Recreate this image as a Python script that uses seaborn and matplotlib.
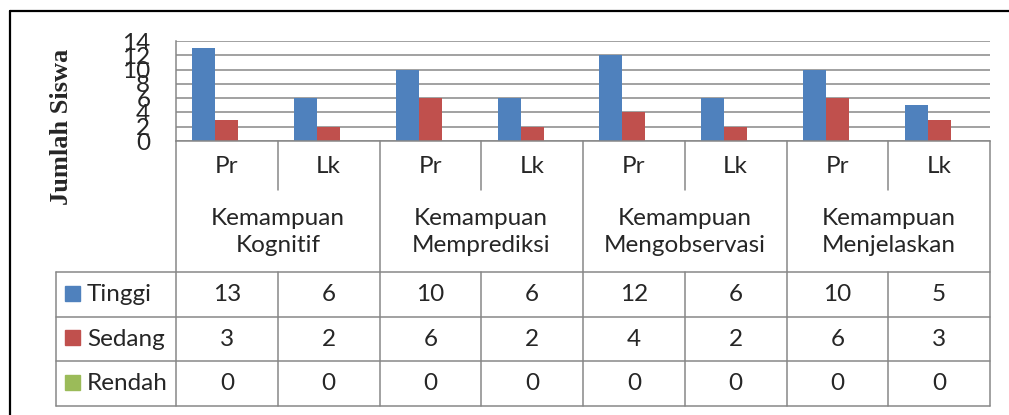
import pandas as pd
import matplotlib.pyplot as plt
import seaborn as sns
from matplotlib.lines import Line2D
from matplotlib.patches import Rectangle

# Data
groups = ["Kemampuan\nKognitif", "Kemampuan\nMemprediksi",
          "Kemampuan\nMengobservasi", "Kemampuan\nMenjelaskan"]
genders = ["Pr", "Lk"]
levels = ["Tinggi", "Sedang", "Rendah"]
tinggi = [13, 6, 10, 6, 12, 6, 10, 5]
sedang = [3, 2, 6, 2, 4, 2, 6, 3]
rendah = [0, 0, 0, 0, 0, 0, 0, 0]
colors = ["#4F81BD", "#C0504D", "#9BBB59"]

slots = [g.split("\n")[1] + " " + s for g in groups for s in genders]
df = pd.DataFrame({
    "slot": slots * 3,
    "level": [lv for lv in levels for _ in slots],
    "jumlah": tinggi + sedang + rendah,
})

sns.set_style("white")
plt.rcParams["font.family"] = ["Lato", "DejaVu Sans"]
fs = 17.5

W, H = 1009, 415
fig = plt.figure(figsize=(W / 100, H / 100), dpi=100)
grid_c = "#878787"

# bar area
ax = fig.add_axes([176 / W, 1 - 141 / H, 814 / W, 100 / H])
sns.barplot(data=df, x="slot", y="jumlah", hue="level", order=slots,
            hue_order=levels, palette=colors, width=0.68, saturation=1,
            linewidth=0, errorbar=None, legend=False, ax=ax)
ax.set_xlim(-0.5, 7.5)
ax.set_ylim(0, 14)
ax.set_yticks(range(0, 15, 2))
ax.set_xticks([])
ax.set_xlabel("")
ax.set_ylabel("")
ax.yaxis.grid(True, color=grid_c, lw=1.1)
ax.set_axisbelow(True)
ax.tick_params(axis="y", length=0, pad=18.5, labelsize=fs)
for s in ["top", "right"]:
    ax.spines[s].set_visible(False)
for s in ["left", "bottom"]:
    ax.spines[s].set_color(grid_c)
    ax.spines[s].set_linewidth(1.1)

fig.text(61 / W, 1 - 127 / H, "Jumlah Siswa", rotation=90, ha="center",
         va="center", fontsize=19, fontweight="bold",
         family=["Liberation Serif", "DejaVu Serif"])

# data table below the bars (x in category units, y in pixel rows)
tax = fig.add_axes([176 / W, 1 - 406 / H, 814 / W, 265 / H])
tax.set_xlim(-0.5, 7.5)
tax.set_ylim(406, 141)
tax.axis("off")
left_x = -0.5 - 120 / 101.75
row_edges = [272, 317, 361, 406]
row_mid = [294.5, 339, 383.5]
lkw = dict(color=grid_c, lw=1.1, clip_on=False)

for k in range(9):
    xk = -0.5 + k
    if k % 2 == 0:
        tax.plot([xk, xk], [141, 406], **lkw)
    else:
        tax.plot([xk, xk], [141, 190], **lkw)
        tax.plot([xk, xk], [272, 406], **lkw)
tax.plot([left_x, left_x], [272, 406], **lkw)
for y in row_edges:
    tax.plot([left_x, 7.5], [y, y], **lkw)

for i, s in enumerate(slots):
    tax.text(i, 166, s.split(" ")[1], ha="center", va="center", fontsize=fs)
for j, g in enumerate(groups):
    tax.text(2 * j + 0.5, 232, g, ha="center", va="center", fontsize=fs,
             linespacing=1.4)

for r, (lv, vals) in enumerate(zip(levels, [tinggi, sedang, rendah])):
    y = row_mid[r]
    tax.add_patch(Rectangle((left_x + 9 / 101.75, y - 9), 15 / 101.75, 15,
                            color=colors[r], clip_on=False))
    tax.text(left_x + 31 / 101.75, y, lv, ha="left", va="center", fontsize=fs)
    for i, v in enumerate(vals):
        tax.text(i, y, str(v), ha="center", va="center", fontsize=fs)

# outer chart frame (top and left edges visible)
fig.add_artist(Line2D([10 / W, 1], [1 - 11.5 / H, 1 - 11.5 / H],
                      color="black", lw=1.6))
fig.add_artist(Line2D([10 / W, 10 / W], [0, 1 - 11.5 / H],
                      color="black", lw=1.6))

fig.savefig("out.png", dpi=100)
